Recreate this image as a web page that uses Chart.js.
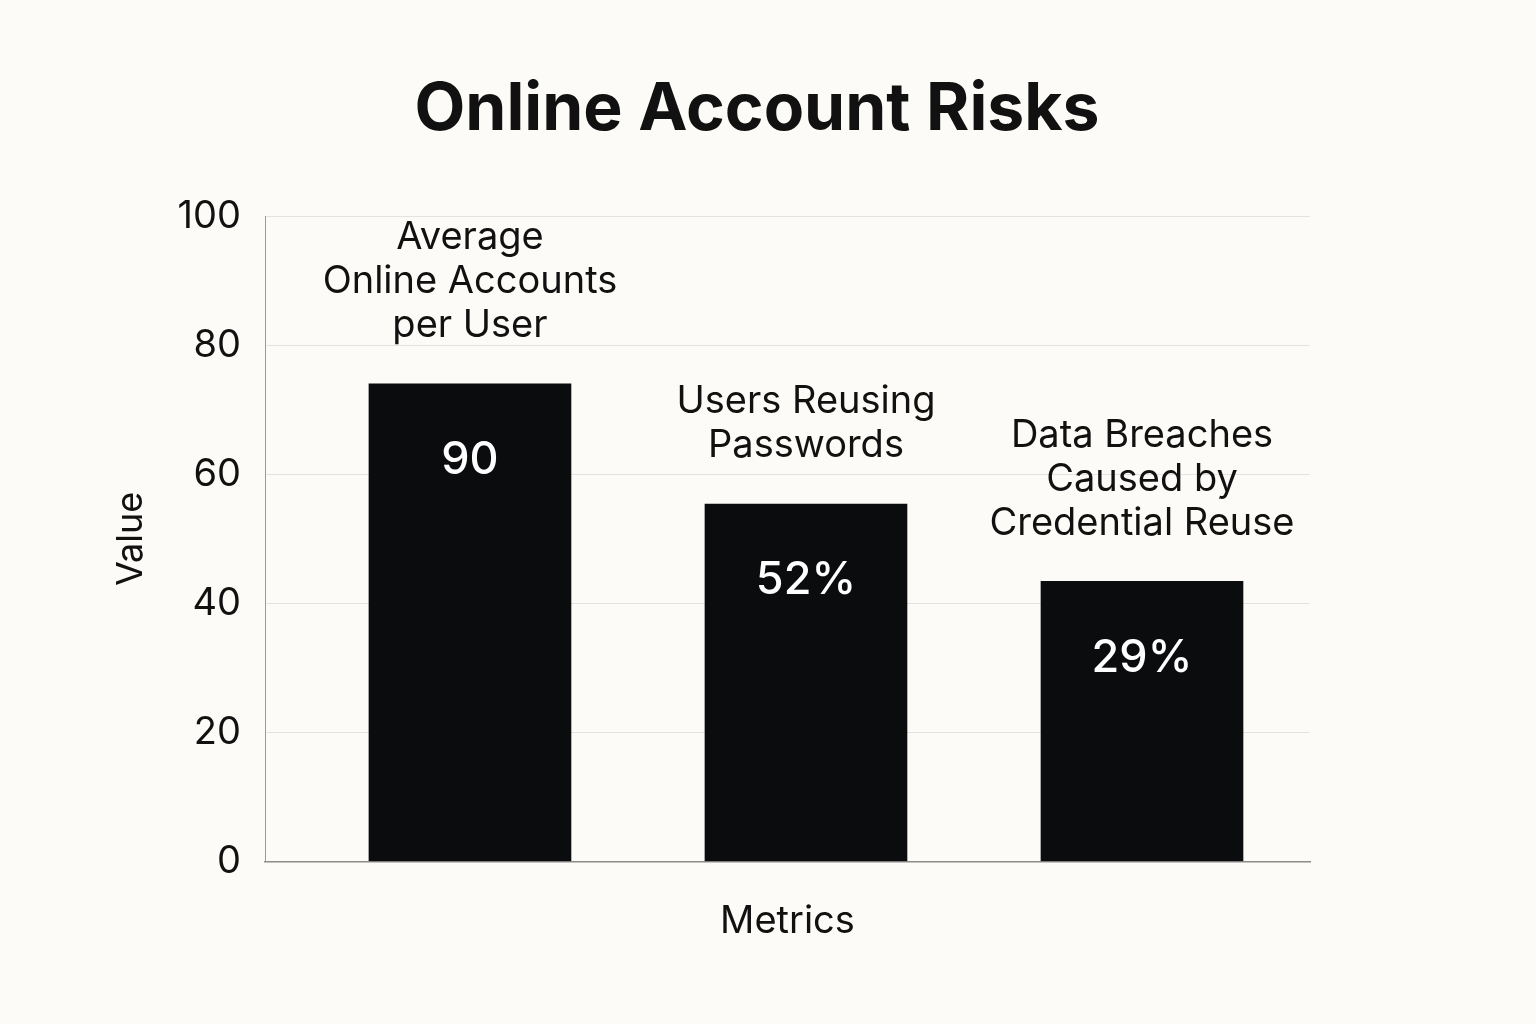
<!DOCTYPE html>
<html>
<head>
<meta charset="utf-8">
<script src="https://cdn.jsdelivr.net/npm/chart.js@4.4.1/dist/chart.umd.min.js"></script>
<style>
  html, body { margin: 0; padding: 0; background: #fcfbf7; }
  #wrap { width: 1536px; height: 1024px; }
</style>
</head>
<body>
<div id="wrap"><canvas id="c" width="1536" height="1024"></canvas></div>
<script>
// ---- data ----
const categories = [
  ["Average", "Online Accounts", "per User"],
  ["Users Reusing", "Passwords"],
  ["Data Breaches", "Caused by", "Credential Reuse"]
];
const barValues = [74, 55.4, 43.4];
const valueLabels = ["90", "52%", "29%"];
const yTicks = [0, 20, 40, 60, 80, 100];

const FONT = "Inter, 'Noto Sans', sans-serif";
const TEXT = "#111111";

const labelPlugin = {
  id: 'barLabels',
  afterDatasetsDraw(chart) {
    const ctx = chart.ctx;
    const meta = chart.getDatasetMeta(0);
    meta.data.forEach((bar, i) => {
      ctx.save();
      ctx.textAlign = 'center';
      ctx.textBaseline = 'middle';
      // value inside bar
      ctx.fillStyle = '#ffffff';
      ctx.font = "500 45px " + FONT;
      ctx.fillText(valueLabels[i], bar.x, bar.y + 77);
      // category above bar
      ctx.fillStyle = TEXT;
      ctx.font = "400 38px " + FONT;
      const lines = categories[i];
      const lh = 44;
      const lastY = bar.y - 58;
      lines.forEach((ln, j) => {
        ctx.fillText(ln, bar.x, lastY - (lines.length - 1 - j) * lh);
      });
      ctx.restore();
    });
  }
};

new Chart(document.getElementById('c'), {
  type: 'bar',
  data: {
    labels: categories.map(c => c.join(' ')),
    datasets: [{
      data: barValues.map((v, i) => ({ x: i, y: v })),
      backgroundColor: '#0b0c0e',
      borderWidth: 0,
      barThickness: 202
    }]
  },
  options: {
    responsive: false,
    devicePixelRatio: 1,
    animation: false,
    layout: { padding: { left: 0, right: 22, top: 0, bottom: 80 } },
    plugins: {
      legend: { display: false },
      tooltip: { enabled: false },
      title: {
        display: true,
        text: 'Online Account Risks',
        color: TEXT,
        font: { family: FONT, size: 66, weight: '700', lineHeight: 1.2 },
        padding: { top: 71, bottom: 66 }
      }
    },
    scales: {
      x: {
        type: 'linear',
        offset: false,
        min: -0.61,
        max: 2.5,
        ticks: { display: false },
        grid: { display: false, drawTicks: false },
        border: { display: true, color: '#8c8c8c', width: 1.5 },
        title: {
          display: true,
          text: 'Metrics',
          color: TEXT,
          font: { family: FONT, size: 38, lineHeight: 1.2 },
          padding: { top: 37, bottom: 0 }
        }
      },
      y: {
        min: 0,
        max: 100,
        afterBuildTicks(scale) { scale.ticks = yTicks.map(v => ({ value: v })); },
        afterFit(scale) { scale.width = 265; },
        ticks: {
          color: TEXT,
          font: { family: FONT, size: 38 },
          padding: 24
        },
        grid: { color: '#e3e3e3', lineWidth: 1, drawTicks: false },
        border: { display: true, color: '#9a9a9a', width: 1 },
        title: {
          display: true,
          text: 'Value',
          color: TEXT,
          font: { family: FONT, size: 36, lineHeight: 1.2 },
          padding: { top: 110, bottom: 0 }
        }
      },
      yRight: {
        type: 'linear',
        position: 'right',
        min: 0,
        max: 100,
        afterFit(scale) { scale.width = 204; },
        ticks: { display: false },
        grid: { display: false, drawTicks: false },
        border: { display: false }
      }
    }
  },
  plugins: [labelPlugin]
});
</script>
</body>
</html>
